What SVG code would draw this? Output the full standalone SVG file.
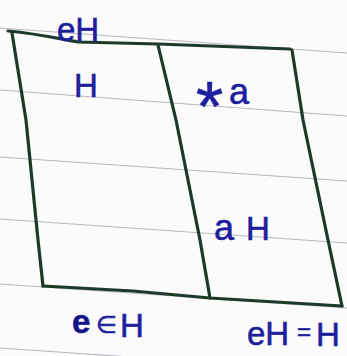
<svg xmlns="http://www.w3.org/2000/svg" width="347" height="356" viewBox="0 0 347 356">
  <style>
    .rule { stroke: #b9b5bf; stroke-width: 1.1; fill: none; }
    .ink { stroke: #1d3a29; stroke-width: 3.2; fill: none; stroke-linecap: round; stroke-linejoin: round; }
    .lbl { font-family: "Liberation Sans", "DejaVu Sans", sans-serif; fill: #1f1f9c; stroke: #1f1f9c; stroke-width: 0.6; font-size: 33px; }
  </style>
  <rect width="347" height="356" fill="#fbfbfc"/>
  <g id="paper-lines">
    <line class="rule" x1="0" y1="28" x2="347" y2="53"/>
    <line class="rule" x1="0" y1="90" x2="347" y2="116"/>
    <line class="rule" x1="0" y1="157" x2="347" y2="181"/>
    <line class="rule" x1="0" y1="219" x2="347" y2="243"/>
    <line class="rule" x1="0" y1="284" x2="347" y2="308"/>
    <line class="rule" x1="0" y1="348" x2="347" y2="372"/>
  </g>
  <g id="connectors">
    <path id="top-edge" class="ink" d="M8,31 C40,34 60,39 78,42 L158,44 L290,49"/>
    <path id="bottom-edge" class="ink" d="M43,286 L133,291 L210,298 L342,306"/>
    <path id="left-edge" class="ink" d="M12,33 L26,120 L38,240 L43,286"/>
    <path id="middle-edge" class="ink" d="M158,45 L176,120 L200,240 L210,298"/>
    <path id="right-edge" class="ink" d="M292,50 L303,120 L328,240 L342,306"/>
  </g>
  <g id="label-eH-top">
    <text class="lbl" x="57" y="41" font-size="32">eH</text>
  </g>
  <g id="label-H">
    <text class="lbl" x="74" y="97" font-size="34">H</text>
  </g>
  <g id="label-star-a">
    <text class="lbl"><tspan x="196" y="131" font-size="70">*</tspan><tspan x="229" y="104" font-size="36">a</tspan></text>
  </g>
  <g id="label-aH">
    <text class="lbl"><tspan x="214" y="240" font-size="36">a</tspan><tspan x="246" y="240">H</tspan></text>
  </g>
  <g id="label-e-in-H">
    <text class="lbl" font-size="32"><tspan x="72" y="333" font-weight="bold" fill="#121282">e</tspan><tspan x="96" y="333" font-size="24">∈</tspan><tspan x="120" y="337">H</tspan></text>
  </g>
  <g id="label-eH-eq-H">
    <text class="lbl" font-size="32"><tspan x="247" y="345">eH</tspan><tspan x="297" y="340" font-size="24">=</tspan><tspan x="316" y="346">H</tspan></text>
  </g>
</svg>
